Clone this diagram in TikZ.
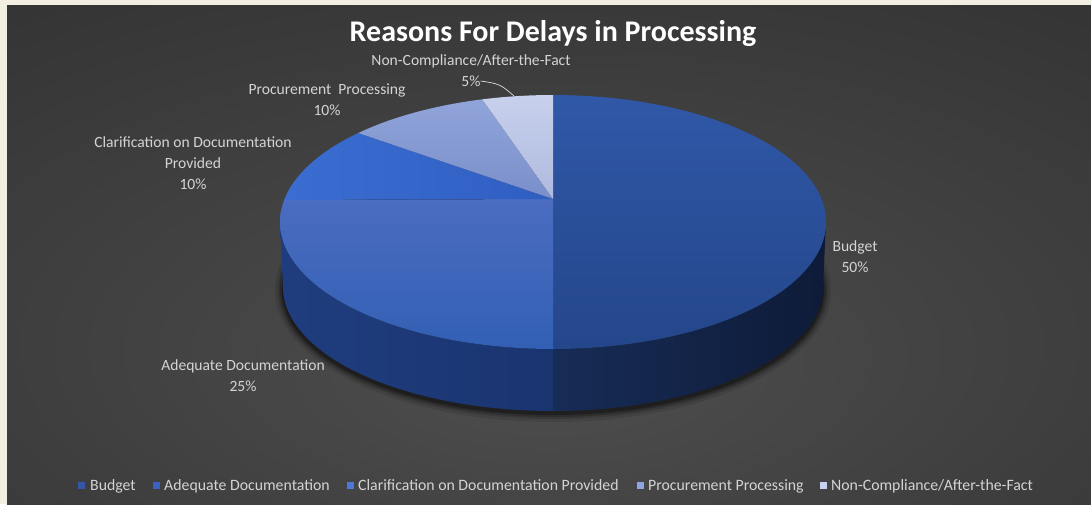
\documentclass[tikz,border=0pt]{standalone}
\usepackage{fontspec}
\setmainfont{Carlito}
\usetikzlibrary{calc}
\definecolor{frame}{HTML}{F2EFE2}
\definecolor{bgin}{HTML}{4E4E4E}
\definecolor{bgmid}{HTML}{404040}
\definecolor{bgout}{HTML}{272727}
\definecolor{lbl}{HTML}{D4D4D4}
\definecolor{budtopA}{HTML}{3058A8}
\definecolor{budtopB}{HTML}{24468A}
\definecolor{adetopA}{HTML}{4B6CC0}
\definecolor{adetopB}{HTML}{3260B4}
\definecolor{clatopA}{HTML}{3B6DD0}
\definecolor{clatopB}{HTML}{2F5EC2}
\definecolor{protopA}{HTML}{90A4DA}
\definecolor{protopB}{HTML}{7A8FCA}
\definecolor{nontopA}{HTML}{C8D0EC}
\definecolor{nontopB}{HTML}{AEBADF}
\definecolor{budsideA}{HTML}{172C56}
\definecolor{budsideB}{HTML}{0E1B38}
\definecolor{adesideA}{HTML}{1A3470}
\definecolor{adesideB}{HTML}{1F3D7E}
\definecolor{lgbud}{HTML}{3557A8}
\definecolor{lgade}{HTML}{3B61C2}
\definecolor{lgcla}{HTML}{4A7AD8}
\definecolor{lgpro}{HTML}{8FA4E2}
\definecolor{lgnon}{HTML}{C9D1F0}
\pgfdeclareradialshading{bgrad}{\pgfpoint{0bp}{-12bp}}{color(0bp)=(bgin); color(22bp)=(bgmid); color(62bp)=(bgout); color(100bp)=(bgout)}
\newcommand\pex[1]{553+273*cos(#1)}
\newcommand\pey[1]{222-127*sin(#1)}
\newcommand\pbx[1]{553+270*cos(#1)}
\newcommand\pby[1]{287-124*sin(#1)}
\tikzset{
  lab/.style={text=lbl, font=\fontsize{15.6}{21}\selectfont, inner sep=0pt},
  legsq/.style={minimum size=7pt, inner sep=0pt},
  legtx/.style={text=lbl, font=\fontsize{15.8}{18}\selectfont, inner sep=0pt, anchor=base west},
  leader/.style={draw=lbl!80, line width=0.7pt}
}
\begin{document}
\begin{tikzpicture}[x=1pt,y=-1pt]
\useasboundingbox (0,0) rectangle (1091,504);
\fill[frame] (0,0) rectangle (1091,504);
\shade[shading=bgrad] (7,5) rectangle (1091,504);
% title
\node[text=white, font=\fontsize{30}{34}\selectfont\bfseries, inner sep=0pt] (title) at (553,34) {Reasons For Delays in Processing};
% shadow
\foreach \s/\o in {8/0.10,5/0.15,3/0.2,1/0.3}{
  \fill[black,opacity=\o] (553,290) ellipse [x radius={(270+\s)*1pt}, y radius={(124+\s)*1pt}];
}
% sides
\shade[left color=adesideB, right color=adesideA] plot[domain=180:270,samples=60] ({\pex{\x}},{\pey{\x}}) -- plot[domain=270:180,samples=60] ({\pbx{\x}},{\pby{\x}}) -- cycle;
\shade[left color=budsideA, right color=budsideB] plot[domain=270:360,samples=60] ({\pex{\x}},{\pey{\x}}) -- plot[domain=360:270,samples=60] ({\pbx{\x}},{\pby{\x}}) -- cycle;
% centre
\coordinate (P) at (553,199);
% top faces
\shade[top color=budtopA, bottom color=budtopB] (P) -- plot[domain=90:-90,samples=90] ({\pex{\x}},{\pey{\x}}) -- cycle;
\shade[top color=adetopA, bottom color=adetopB] (P) -- plot[domain=170:270,samples=60] ({\pex{\x}},{\pey{\x}}) -- cycle;
\shade[left color=clatopA, right color=clatopB] (P) -- plot[domain=135.5:170,samples=30] ({\pex{\x}},{\pey{\x}}) -- cycle;
\shade[top color=protopA, bottom color=protopB] (P) -- plot[domain=105:135.5,samples=30] ({\pex{\x}},{\pey{\x}}) -- cycle;
\shade[top color=nontopA, bottom color=nontopB] (P) -- plot[domain=90:105,samples=20] ({\pex{\x}},{\pey{\x}}) -- cycle;
% data labels
\node[lab] (lnc) at (471,61) {Non-Compliance/After-the-Fact};
\node[lab] (lnc5) at (471,81) {5\%};
\coordinate (nctip) at (514,96);
\draw[leader] (lnc5.east) .. controls (500,84) .. (nctip);
\node[lab, align=center] (lpro) at (327,100) {Procurement\ \ Processing\\10\%};
\node[lab, align=center] (lcla) at (193,163) {Clarification on Documentation\\Provided\\10\%};
\node[lab, align=center] (lade) at (243,376) {Adequate Documentation\\25\%};
\node[lab, align=center] (lbud) at (855,257) {Budget\\50\%};
% legend
\node[legsq, fill=lgbud] (s1) at (81,485) {};
\node[legtx] (t1) at (90,490) {Budget};
\node[legsq, fill=lgade] (s2) at (156,485) {};
\node[legtx] (t2) at (164,490) {Adequate Documentation};
\node[legsq, fill=lgcla] (s3) at (350,485) {};
\node[legtx] (t3) at (358,490) {Clarification on Documentation Provided};
\node[legsq, fill=lgpro] (s4) at (640,485) {};
\node[legtx] (t4) at (648,490) {Procurement Processing};
\node[legsq, fill=lgnon] (s5) at (823,485) {};
\node[legtx] (t5) at (831,490) {Non-Compliance/After-the-Fact};
\end{tikzpicture}
\end{document}
